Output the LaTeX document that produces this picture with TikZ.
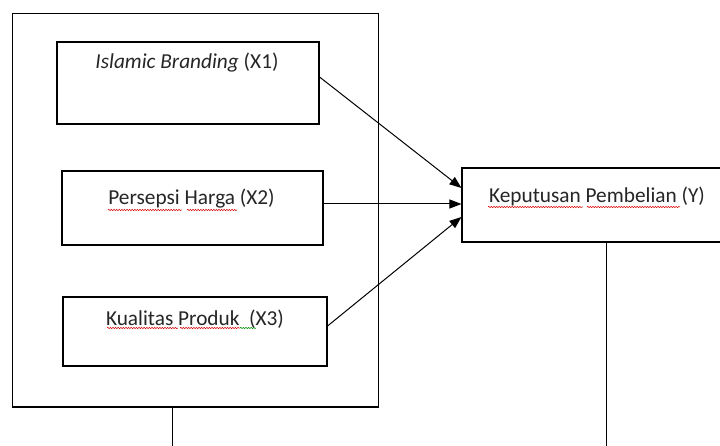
\documentclass[tikz,border=0pt]{standalone}
\usepackage{fontspec}
\setmainfont{Carlito}
\usetikzlibrary{arrows.meta,decorations.pathmorphing}
\begin{document}
\begin{tikzpicture}[x=1pt,y=-1pt,
  box/.style={draw, line width=1.1pt, inner sep=0pt},
  lbl/.style={font=\fontsize{21.3}{24}\selectfont, inner sep=0pt, text=black!85},
  link/.style={line width=1pt, -{Triangle[length=12pt,width=9pt]}},
  plain/.style={line width=1pt},
  squig/.style={red!85!black, line width=0.5pt, decorate, decoration={snake, amplitude=0.7pt, segment length=2.6pt}},
  squigg/.style={green!55!black, line width=0.5pt, decorate, decoration={snake, amplitude=0.7pt, segment length=2.6pt}}]
\useasboundingbox (0,0) rectangle (720,446);
\fill[white] (0,0) rectangle (720,446);
% outer frame
\node[box, minimum width=366pt, minimum height=393.5pt] (outer) at (195.5,210.25) {};
% inner boxes
\node[box, minimum width=262pt, minimum height=82pt] (b1) at (188,83) {};
\node[box, minimum width=261pt, minimum height=74pt] (b2) at (192.5,208) {};
\node[box, minimum width=264pt, minimum height=69pt] (b3) at (195,331.5) {};
\node[box, minimum width=263pt, minimum height=74pt] (by) at (593.5,205) {};
% labels
\node[lbl] (t1) at (187,63) {\textit{Islamic Branding} (X1)};
\node[lbl] (t2) at (191.5,199) {Persepsi Harga (X2)};
\node[lbl] (t3) at (195,319) {Kualitas Produk\ \ (X3)};
\node[lbl] (ty) at (597,196) {Keputusan Pembelian (Y)};
% spelling squiggles
\draw[squig] (108,210) -- (182,210);
\draw[squig] (187,210) -- (237,210);
\draw[squig] (107,328) -- (178,328);
\draw[squig] (180,328) -- (240,328);
\draw[squigg] (240,328) -- (256,328);
\draw[squig] (488,207) -- (583,207);
\draw[squig] (587,207) -- (680,207);
% connectors
\draw[link] ([yshift=6pt]b1.east) -- ([yshift=17pt]by.west);
\draw[link] ([yshift=4pt]b2.east) -- ([yshift=1pt]by.west);
\draw[link] ([yshift=5.5pt]b3.east) -- ([yshift=-12pt]by.west);
\coordinate (e1) at (172.7,447);
\coordinate (e2) at (606.7,447);
\draw[plain] (outer.south -| e1) -- (e1);
\draw[plain] (by.south -| e2) -- (e2);
\end{tikzpicture}
\end{document}
